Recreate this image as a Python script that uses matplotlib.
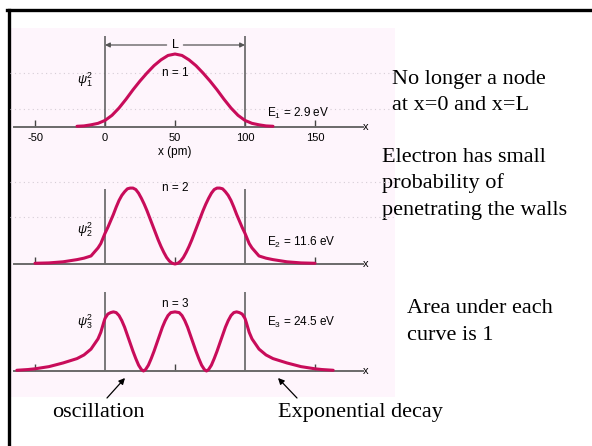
"""
有限深势阱中电子的概率密度 psi_n^2 (n = 1, 2, 3)
"""
import matplotlib.pyplot as plt
from matplotlib.patches import Rectangle
from matplotlib.lines import Line2D

plt.rcParams['font.family'] = ['Liberation Sans', 'DejaVu Sans']
plt.rcParams['mathtext.fontset'] = 'custom'
plt.rcParams['mathtext.it'] = 'Liberation Sans:italic'
plt.rcParams['mathtext.rm'] = 'Liberation Sans'

# ---- 数据 (x 单位 pm, 纵轴为相对概率密度) ----
x1 = [-20, -15, -10, -5, 0, 5, 10, 15, 20, 25, 30, 35, 40, 45, 50,
      55, 60, 65, 70, 75, 80, 85, 90, 95, 100, 105, 110, 115, 120]
psi1 = [0.01, 0.015, 0.03, 0.05, 0.09, 0.16, 0.26, 0.38, 0.51, 0.63, 0.74,
        0.84, 0.92, 0.98, 1.00,
        0.98, 0.92, 0.84, 0.74, 0.63, 0.51, 0.38, 0.26, 0.16, 0.09, 0.05,
        0.03, 0.015, 0.01]

x2 = [-50, -40, -30, -20, -15, -10, -5, -3, 0, 2, 4, 6, 8, 10, 12, 14, 16,
      18, 20, 22, 24, 26, 28, 30, 32, 34, 36, 38, 40, 42, 44, 46, 48, 50,
      52, 54, 56, 58, 60, 62, 64, 66, 68, 70, 72, 74, 76, 78, 80, 82, 84,
      86, 88, 90, 92, 94, 96, 98, 100, 103, 105, 110, 115, 120, 130, 140, 150]
psi2 = [0.01, 0.015, 0.03, 0.06, 0.08, 0.11, 0.22, 0.28, 0.42, 0.50, 0.59,
        0.68, 0.78, 0.87, 0.94, 0.99, 1.03, 1.04, 1.04, 1.02, 0.97, 0.90,
        0.82, 0.73, 0.63, 0.53, 0.43, 0.33, 0.24, 0.16, 0.09, 0.04, 0.01, 0.0,
        0.01, 0.04, 0.09, 0.16, 0.24, 0.33, 0.43, 0.53, 0.63, 0.73, 0.82,
        0.90, 0.97, 1.02, 1.04, 1.04, 1.03, 0.99, 0.94, 0.87, 0.78, 0.68,
        0.59, 0.50, 0.42, 0.28, 0.22, 0.11, 0.08, 0.06, 0.03, 0.015, 0.01]

x3 = [-63, -55, -50, -40, -30, -20, -15, -10, -5, -3, -1, 0, 2, 4, 6, 8, 10,
      12, 14, 16, 18, 20, 22, 24, 26, 27.5, 29, 31, 33, 35, 37, 39, 41, 43,
      45, 47, 50, 53, 55, 57, 59, 61, 63, 65, 67, 69, 71, 72.5, 74, 76, 78,
      80, 82, 84, 86, 88, 90, 92, 94, 96, 98, 100, 101, 103, 105, 110, 115,
      120, 130, 140, 150, 155, 163]
psi3 = [0.01, 0.02, 0.03, 0.06, 0.11, 0.17, 0.22, 0.30, 0.44, 0.53, 0.66,
        0.72, 0.78, 0.80, 0.81, 0.80, 0.76, 0.69, 0.60, 0.49, 0.38, 0.27,
        0.17, 0.08, 0.02, 0.0, 0.02, 0.08, 0.17, 0.27, 0.38, 0.49, 0.60,
        0.69, 0.76, 0.80, 0.81, 0.80, 0.76, 0.69, 0.60, 0.49, 0.38, 0.27,
        0.17, 0.08, 0.02, 0.0, 0.02, 0.08, 0.17, 0.27, 0.38, 0.49, 0.60,
        0.69, 0.76, 0.80, 0.81, 0.80, 0.78, 0.72, 0.66, 0.53, 0.44, 0.30,
        0.22, 0.17, 0.11, 0.06, 0.03, 0.02, 0.01]

energies = ['2.9', '11.6', '24.5']
tick_labels = ['-50', '0', '50', '100', '150']
well_edges = [0, 100]

W, H = 592, 446
CURVE = '#c80c5a'
PINK = '#fef5fc'

fig = plt.figure(figsize=(W / 100, H / 100), dpi=100)

# 整幅图的像素坐标层: 边框、背景、说明文字
frame = fig.add_axes([0, 0, 1, 1])
frame.set_xlim(0, W)
frame.set_ylim(H, 0)
frame.axis('off')
frame.add_patch(Rectangle((10, 28), 385, 369, facecolor=PINK, edgecolor='none'))
frame.add_line(Line2D([7, W], [10, 10], color='black', lw=2.4))
frame.add_line(Line2D([8.5, 8.5], [10, H], color='black', lw=2.4))

serif = dict(family='Liberation Serif', fontsize=16, color='black', va='baseline')
frame.text(392, 84, 'No longer a node', **serif)
frame.text(392, 110, 'at x=0 and x=L', **serif)
frame.text(382, 162, 'Electron has small', **serif)
frame.text(382, 188, 'probability of', **serif)
frame.text(382, 215, 'penetrating the walls', **serif)
frame.text(407, 313, 'Area under each', **serif)
frame.text(407, 340, 'curve is 1', **serif)
frame.text(52, 417, 'oscillation', **serif)
frame.text(278, 417, 'Exponential decay', **serif)
frame.annotate('', xy=(125, 378), xytext=(107, 398),
               arrowprops=dict(arrowstyle='-|>', color='black', lw=0.9,
                               mutation_scale=9, shrinkA=0, shrinkB=0))
frame.annotate('', xy=(278, 378), xytext=(297, 398),
               arrowprops=dict(arrowstyle='-|>', color='black', lw=0.9,
                               mutation_scale=9, shrinkA=0, shrinkB=0))

# 各子图: 像素带 (上, 下), 横轴所在行, 势阱壁顶端, 虚线网格
PX_PER_UNIT = 1.4        # 每 pm 的像素
X0_PX = 105              # x = 0 的像素列
Y_UNIT = 73              # 纵轴 1 个单位的像素
panels = [
    dict(x=x1, y=psi1, band=(28, 160), base=127, wall=36, grid=[73, 109],
         ylab=80, nlab=73, elab=113),
    dict(x=x2, y=psi2, band=(160, 280), base=264, wall=189, grid=[182, 217],
         ylab=230, nlab=188, elab=242),
    dict(x=x3, y=psi3, band=(280, 397), base=371, wall=292, grid=[],
         ylab=322, nlab=304, elab=322),
]

xmin = (10 - X0_PX) / PX_PER_UNIT
xmax = (395 - X0_PX) / PX_PER_UNIT

for i, p in enumerate(panels):
    top, bot = p['band']
    base = p['base']
    ax = fig.add_axes([10 / W, 1 - bot / H, 385 / W, (bot - top) / H])
    ax.patch.set_alpha(0)
    ax.set_xlim(xmin, xmax)
    ax.set_ylim(-(bot - base) / Y_UNIT, (base - top) / Y_UNIT)

    def to_y(py):
        return (base - py) / Y_UNIT

    for g in p['grid']:
        ax.axhline(to_y(g), color='#d6cdd6', lw=0.8, ls=(0, (1, 3)), zorder=0)

    for s in ['top', 'right', 'left']:
        ax.spines[s].set_visible(False)
    ax.spines['bottom'].set_position(('data', 0))
    ax.spines['bottom'].set_bounds(-65, 184)
    ax.spines['bottom'].set_color('#6a6a6a')
    ax.spines['bottom'].set_linewidth(1.4)
    ax.set_yticks([])
    if i == 0:
        ax.set_xticks([-50, 0, 50, 100, 150])
        ax.set_xticklabels(tick_labels)
    else:
        ax.set_xticks([-50, 50, 150])
        ax.set_xticklabels([])
    ax.tick_params(axis='x', direction='in', length=5, width=1.0,
                   color='#444444', labelsize=8, pad=4)
    ax.text(186, 0, 'x', fontsize=8, ha='center', va='center')

    ax.vlines(well_edges, 0, to_y(p['wall']), color='#555555', lw=1.1)
    ax.plot(p['x'], p['y'], color=CURVE, lw=2.2, solid_joinstyle='round',
            solid_capstyle='round', zorder=3)

    n = i + 1
    ax.text(-14.3, to_y(p['ylab']), rf'$\psi_{n}^2$', fontsize=9,
            ha='center', va='center')
    ax.text(50, to_y(p['nlab']), f'n = {n}', fontsize=8.5,
            ha='center', va='center')
    ax.text(116, to_y(p['elab']), rf'E$_{n}$ = {energies[i]} eV', fontsize=8.5,
            ha='left', va='center')

    if i == 0:
        ly = to_y(45)
        for start, end in [(44, 0), (56, 100)]:
            ax.annotate('', xy=(end, ly), xytext=(start, ly),
                        arrowprops=dict(arrowstyle='-|>', color='#555555',
                                        lw=0.9, mutation_scale=7,
                                        shrinkA=0, shrinkB=0))
        ax.text(50, ly, 'L', fontsize=9, ha='center', va='center')
        ax.text(50, to_y(152), 'x (pm)', fontsize=8.5, ha='center', va='center')

fig.savefig('out.png', dpi=100)
